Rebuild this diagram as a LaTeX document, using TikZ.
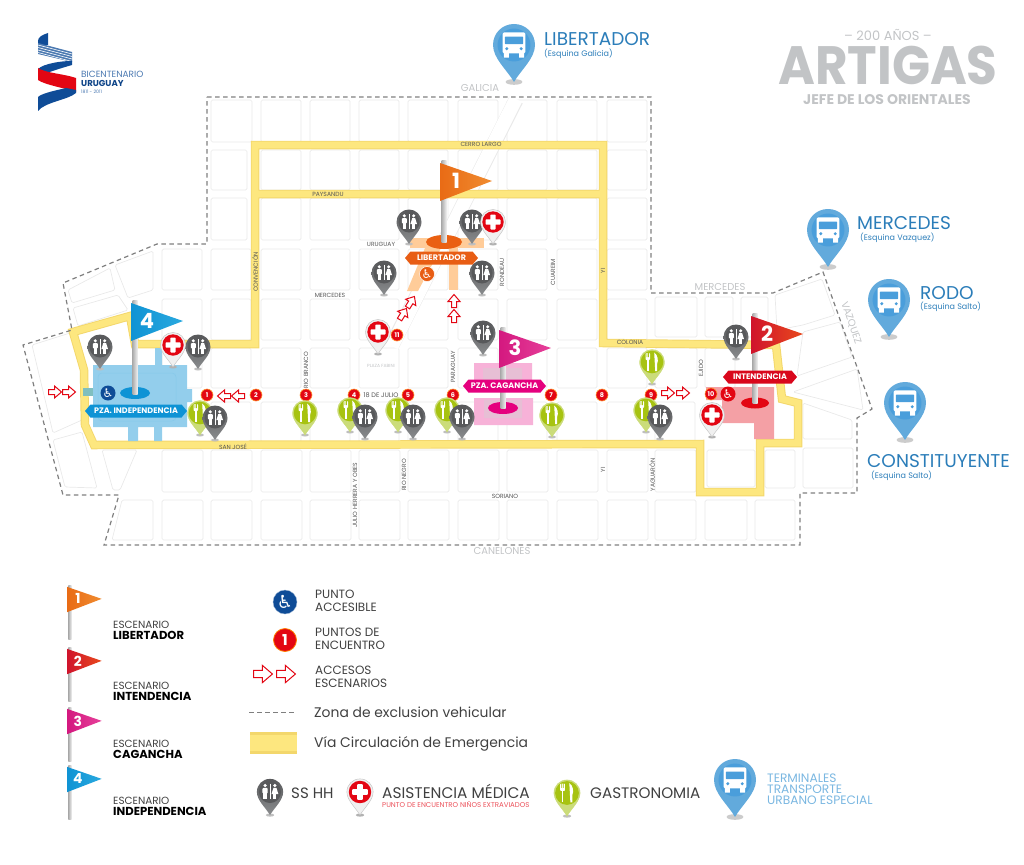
\documentclass[tikz,border=0pt]{standalone}
\usepackage{fontspec}
\setmainfont{Poppins}
\newfontfamily\symfont{DejaVu Sans}
\usetikzlibrary{calc, positioning, shapes.symbols}

\definecolor{blockgray}{HTML}{E9E9E9}
\definecolor{routefill}{HTML}{FDE77F}
\definecolor{routeedge}{HTML}{F3D76C}
\definecolor{zonegray}{HTML}{7F7F7F}
\definecolor{streetgray}{HTML}{555555}
\definecolor{palegray}{HTML}{C2C4C6}
\definecolor{logoblue}{HTML}{0F4C97}
\definecolor{busblue}{HTML}{2B7DB9}
\definecolor{buspin}{HTML}{62AADC}
\definecolor{busdark}{HTML}{4A9EDB}
\definecolor{wcdark}{HTML}{58595B}
\definecolor{wclight}{HTML}{8A8C8E}
\definecolor{gasdark}{HTML}{A7C311}
\definecolor{gaslight}{HTML}{CBDC7A}
\definecolor{medred}{HTML}{E30613}
\definecolor{indigblue}{HTML}{0E93D5}
\definecolor{libertorange}{HTML}{E85D14}
\definecolor{cagpink}{HTML}{E5007E}
\definecolor{intred}{HTML}{D9071C}
\definecolor{flagonea}{HTML}{E96B15}
\definecolor{flagoneb}{HTML}{F08C30}
\definecolor{flagtwoa}{HTML}{D0142C}
\definecolor{flagtwob}{HTML}{E8491D}
\definecolor{flagthreea}{HTML}{D4187F}
\definecolor{flagthreeb}{HTML}{E6409A}
\definecolor{flagfoura}{HTML}{0F93D4}
\definecolor{flagfourb}{HTML}{2AA9DF}

\newcommand{\fs}[1]{\fontsize{#1}{#1}\selectfont}
\newcommand{\pinpath}{(0,22) .. controls (-4,15) and (-12.5,8) .. (-12.5,0)
  .. controls (-12.5,-7) and (-7,-12.5) .. (0,-12.5)
  .. controls (7,-12.5) and (12.5,-7) .. (12.5,0)
  .. controls (12.5,8) and (4,15) .. (0,22) -- cycle}

\tikzset{
  blockcell/.style={draw=blockgray, line width=.7pt, rounded corners=1.5pt},
  zoneline/.style={draw=zonegray, line width=1.2pt, dash pattern=on 4.5pt off 3.5pt},
  streettag/.style={text=streetgray, font=\fs{6}, inner sep=0pt},
  paletag/.style={text=palegray, font=\fs{10}, inner sep=0pt},
  lefttag/.style={anchor=west, inner sep=0pt, text=black!75},
  bustitle/.style={anchor=west, inner sep=0pt, text=busblue, font=\fs{18.5}},
  bussub/.style={anchor=west, inner sep=0pt, text=busblue, font=\fs{8}},
  meetpoint/.style={circle, fill=medred, draw=orange!80, line width=.6pt, text=white, font=\bfseries\fs{6.5}, inner sep=0pt, minimum size=12pt},
  banner/.style={signal, signal to=east and west, signal pointer angle=100, text=white, font=\bfseries\fs{8}, inner sep=0pt, minimum height=13pt},
  access/.style={circle, text=white, inner sep=0pt, font=\symfont\fs{12}, minimum size=15pt},
  gatearrow/.pic={
    \draw[draw=medred, fill=white, line width=1pt, line join=miter]
      (-6.5,-2.5) -- (-.5,-2.5) -- (-.5,-6) -- (6.5,0) -- (-.5,6) -- (-.5,2.5) -- (-6.5,2.5) -- cycle;
  },
  wcpin/.pic={
    \fill[black!25] (0,22) ellipse (4 and 1.5);
    \shade[top color=wcdark, bottom color=wclight] \pinpath;
    \fill[wcdark] (0,0) circle (10.5);
    \fill[white] (-4.7,-6.2) circle (1.7) (4.7,-6.2) circle (1.7);
    \fill[white, rounded corners=1pt] (-7.2,-4) rectangle (-2.2,1.5);
    \fill[white] (-6.2,0) rectangle (-3.2,6.5);
    \fill[white] (3.3,-4) -- (6.1,-4) -- (8,2) -- (1.4,2) -- cycle;
    \fill[white] (3.3,2) rectangle (6.1,6.5);
    \draw[white, line width=.7pt] (0,-8) -- (0,7);
  },
  gaspin/.pic={
    \fill[black!25] (0,22) ellipse (4 and 1.5);
    \draw[fill=gaslight, draw=gasdark!60, line width=.3pt] \pinpath;
    \fill[gasdark] (0,0) circle (11.3);
    \fill[white, rounded corners=.8pt] (-6.5,-9) rectangle (-2,-2);
    \fill[gasdark] (-5.3,-10) rectangle (-4.7,-5) (-3.8,-10) rectangle (-3.2,-5);
    \fill[white] (-5,-3) rectangle (-3.4,9);
    \fill[white] (2.2,-9.5) .. controls (6,-7) and (6.5,-1) .. (5.2,1.5) -- (5.2,9) -- (3.2,9) -- cycle;
  },
  medpin/.pic={
    \fill[black!30] (0,22) ellipse (4 and 1.5);
    \draw[fill=black!6, draw=black!25, line width=.4pt] \pinpath;
    \fill[medred] (0,0) circle (10.7);
    \fill[white, rounded corners=.8pt] (-7.5,-2.7) rectangle (7.5,2.7) (-2.7,-7.5) rectangle (2.7,7.5);
  },
  buspinmark/.pic={
    \fill[black!20] (0,22) ellipse (5 and 1.7);
    \fill[buspin] \pinpath;
    \fill[busdark] (0,0) circle (9.8);
    \fill[white, rounded corners=1.5pt] (-6.8,-7.5) rectangle (6.8,5);
    \fill[white] (-6,4) rectangle (-3,7.5) (3,4) rectangle (6,7.5);
    \fill[busdark, rounded corners=.6pt] (-5.4,-5) rectangle (5.4,-.5);
    \fill[busdark] (-4.3,2.2) circle (1) (4.3,2.2) circle (1);
  },
}

% flag: #1 pale side, #2 strong side, #3 number
\newcommand{\flagcloth}[3]{
  \shade[left color=#2, right color=#1] (-4,3) -- (48,21) -- (-4,41) -- cycle;
  \node[text=white, font=\bfseries\fs{21}, transform shape, inner sep=0pt] (flagnum#3) at (12,21) {#3};
}

\begin{document}
\begin{tikzpicture}[x=1pt, y=-1pt]
  \useasboundingbox (0,0) rectangle (1024,864);

  %Blocks
  \foreach \bx in {261,310,359,408,458,507,557,607}{
    \foreach \by/\bh in {100/42,150/40,198/42}{
      \draw[blockcell] (\bx,\by) rectangle ++(40,\bh);
    }
  }
  \draw[blockcell] (211,100) rectangle ++(41,42);
  \draw[blockcell] (211,150) rectangle ++(36,40);
  \draw[blockcell] (211,198) rectangle ++(36,42);
  \foreach \bx in {162,211,261,310,359,408,458,507,557,607}{
    \foreach \by/\bh in {249/41,299/41,348/40}{
      \draw[blockcell] (\bx,\by) rectangle ++(40,\bh);
    }
  }
  \foreach \bx in {211,261,310,359,408,458,507,557,607,655}{
    \draw[blockcell] (\bx,402) rectangle ++(40,40);
  }
  \foreach \bx in {162,211,261,310,359,408,458,507,557,607,655}{
    \foreach \by/\bh in {450/42,500/40}{
      \draw[blockcell] (\bx,\by) rectangle ++(41,\bh);
    }
  }
  \draw[blockcell] (705,500) rectangle ++(42,40);
  \draw[blockcell] (755,500) rectangle ++(40,40);
  \draw[blockcell] (707,450) rectangle (755,487);
  \draw[blockcell] (765,450) rectangle (795,488);
  \draw[blockcell] (803,448) rectangle (853,488);
  \draw[blockcell] (655,297) rectangle ++(42,40);
  \draw[blockcell] (705,297) rectangle ++(28,40);
  \draw[blockcell] (741,297) rectangle ++(27,40);
  \draw[blockcell] (655,348) rectangle ++(42,40);
  \draw[blockcell] (705,348) rectangle ++(30,40);
  %Diagonal street
  \draw[blockgray, line width=15pt] (516,100) -- (392,345);
  \draw[white, line width=13.6pt] (516,99) -- (392,346);
  %West and east irregular blocks
  \draw[blockcell] (68,290) -- (110,268) -- (115,290) -- (72,303) -- cycle;
  \draw[blockcell] (115,265) -- (153,251) -- (153,290) -- (128,298) -- cycle;
  \draw[blockcell] (73,308) -- (118,295) -- (128,310) -- (78,326) -- cycle;
  \draw[blockcell] (32,345) -- (70,333) -- (82,373) -- (82,420) -- (53,433) -- cycle;
  \draw[blockcell] (53,440) -- (82,432) -- (97,488) -- (65,487) -- cycle;
  \draw[blockcell] (102,450) -- (113,490) -- (120,490) -- (137,450) -- cycle;
  \draw[blockcell] (122,500) -- (153,500) -- (153,540) -- (112,540) -- cycle;
  \draw[blockcell] (775,295) -- (822,279) -- (835,315) -- (803,325) -- (777,330) -- cycle;
  \draw[blockcell] (803,332) -- (840,322) -- (852,357) -- (797,376) -- cycle;
  \draw[blockcell] (793,392) -- (857,369) -- (863,410) -- cycle;
  \draw[blockcell] (803,403) -- (852,420) -- (852,439) -- (803,439) -- cycle;

  %Emergency route
  \foreach \routecol/\routew in {routeedge/8.5pt, routefill/6.6pt}{
    \draw[\routecol, line width=\routew, line join=miter]
      (603,194) -- (603,145) -- (255,145) -- (255,344) -- (135,344) -- (130,316) -- (73,332)
      -- (84,370) -- (85,425) -- (94,445) -- (700,444) -- (700,492) -- (760,492) -- (760,443)
      -- (798,443) -- (798,403) -- (782,399) -- (776,345) -- (603,343) -- (603,194) -- (255,194);
  }

  %Exclusion zone
  \draw[zoneline] (207,97) -- (651,97) -- (651,293) -- (773,293) -- (823,272) -- (872,409)
    -- (857,418) -- (857,493) -- (800,493) -- (800,545) -- (104,545) -- (119,495)
    -- (63,495) -- (23,345) -- (72,330) -- (63,283) -- (157,244) -- (207,244) -- cycle;

  %Plazas
  \fill[indigblue!45!white] (93,365) rectangle (187,427)
    (155,348) rectangle (162,365) (128,427) rectangle (138,441) (154,427) rectangle (162,441)
    (187,389) rectangle (192,402);
  \draw[indigblue!50!white, line width=.5pt, rounded corners=4pt] (98,373) rectangle (176,421);
  \fill[teal!50!white] (83,388) rectangle (93,396);
  \fill[orange!40!white] (410,238) rectangle (484,248);
  \fill[orange!40!white] (425,248) -- (441,248) -- (418,291) -- (407,291) -- cycle;
  \fill[orange!40!white] (449,248) rectangle (458,290);
  \fill[cagpink!30!white] (474,363) rectangle (532,382) (474,398) rectangle (533,425);
  \fill[black!30!cagpink!25!white] (483,368) rectangle (522,382) (484,400) rectangle (522,418);
  \fill[medred!38!white] (706,387) -- (774,387) -- (774,439) -- (754,439) -- (754,423)
    -- (722,423) -- (722,400) -- (706,400) -- cycle;

  \fill[indigblue] (135,393) ellipse (15 and 6);
  \fill[libertorange!90!orange] (444,242) ellipse (18 and 7);
  \fill[cagpink] (503,408) ellipse (15 and 6);
  \fill[medred] (755,403) ellipse (14 and 5.5);

  %Street names
  \node[streettag] (cerro) at (481,144) {CERRO LARGO};
  \node[streettag] (paysandu) at (328,194) {PAYSANDU};
  \node[streettag] (uruguay) at (381,244) {URUGUAY};
  \node[streettag] (mercedesw) at (330,295) {MERCEDES};
  \node[streettag, rotate=90] (convencion) at (255,272) {CONVENCIÓN};
  \node[streettag, rotate=90] (riobranco) at (306,370) {RIO BRANCO};
  \node[streettag, font=\fs{6.5}] (julio) at (381,395) {18 DE JULIO};
  \node[streettag, text=palegray, font=\fs{4.5}] (fabini) at (381,366) {PLAZA FABINI};
  \node[streettag, rotate=90] (paraguay) at (453,367) {PARAGUAY};
  \node[streettag, rotate=90] (rondeau) at (502,272) {RONDEAU};
  \node[streettag, rotate=90] (cuareim) at (553,272) {CUAREIM};
  \node[streettag, rotate=90] (yinorth) at (603,271) {YI};
  \node[streettag] (colonia) at (630,342) {COLONIA};
  \node[streettag, rotate=90] (ejido) at (701,368) {EJIDO};
  \node[streettag] (sanjose) at (233,447) {SAN JOSÉ};
  \node[streettag, rotate=90] (herrera) at (355,495) {JULIO HERRERA Y OBES};
  \node[streettag, rotate=90] (rionegro) at (404,475) {RIO NEGRO};
  \node[streettag, rotate=90] (yisouth) at (603,470) {YI};
  \node[streettag, rotate=90] (yaguaron) at (652,475) {YAGUARÓN};
  \node[streettag] (soriano) at (505,496) {SORIANO};
  \node[paletag] (canelones) at (502,551) {CANELONES};
  \node[paletag] (galicia) at (480,88) {GALICIA};
  \node[paletag] (mercedese) at (720,287) {MERCEDES};
  \node[paletag, rotate=-71] (vazquez) at (851,323) {VAZQUEZ};

  %Access arrows
  \foreach \ax/\ay/\aang in {55/392/0, 69/392/0, 224/396/180, 238/396/180, 668/393/0, 683/393/0,
      454/301/90, 454/316/90, 411/302/58, 403/314/58}{
    \pic[rotate=\aang] at (\ax,\ay) {gatearrow};
  }

  %Meeting points
  \foreach \mx/\my/\mnum in {207/395/1, 256/395/2, 306/395/3, 354/395/4, 408/395/5, 453/395/6,
      551/395/7, 602/395/8, 651/395/9, 711/394/10, 397/335/11}{
    \node[meetpoint] (meet\mnum) at (\mx,\my) {\mnum};
  }

  %Food and toilet pins
  \foreach \gx/\gy in {200/413, 305/413, 350/410, 398/410, 447/410, 552/415, 652/362, 646/410}{
    \pic at (\gx,\gy) {gaspin};
  }
  \foreach \wx/\wy in {100/347, 198/347, 215/418, 409/222, 472/222, 384/273, 482/273, 483/333,
      365/417, 413/417, 462/417, 660/417, 736/337}{
    \pic at (\wx,\wy) {wcpin};
  }
  \foreach \hx/\hy in {173/345, 493/222, 378/332, 712/415}{
    \pic at (\hx,\hy) {medpin};
  }

  %Stage flags
  \foreach \fx/\fy/\flen/\fpale/\fstrong/\fnum in {
      444/160/82/flagoneb/flagonea/1,
      755/313/90/flagtwob/flagtwoa/2,
      503/327/81/flagthreeb/flagthreea/3,
      135/300/94/flagfourb/flagfoura/4}{
    \begin{scope}[shift={(\fx,\fy)}]
      \shade[left color=black!32, right color=black!6] (-2.5,0) rectangle (2.5,\flen);
      \flagcloth{\fpale}{\fstrong}{\fnum}
    \end{scope}
  }

  %Plaza banners and access badges
  \node[banner, fill=indigblue, minimum width=102pt] (indep) at (136,411) {PZA. INDEPENDENCIA};
  \node[banner, fill=libertorange, minimum width=73pt] (libert) at (441.5,258) {LIBERTADOR};
  \node[banner, fill=cagpink, minimum width=83pt] (cagan) at (504.5,386) {PZA. CAGANCHA};
  \node[banner, fill=intred, minimum width=74pt] (inten) at (760,377) {INTENDENCIA};
  \node[access, fill=logoblue] (accindep) at (108,393) {♿};
  \node[access, fill=libertorange, draw=white, line width=.5pt] (acclibert) at (427,274) {♿};
  \node[access, fill=medred] (accinten) at (728,394) {♿};

  %Bus terminals
  \foreach \bux/\buy in {514/45, 828/230, 889/300, 905/403, 735/780}{
    \pic[scale=1.68] at (\bux,\buy) {buspinmark};
  }
  \node[bustitle] (busa) at (544,39) {LIBERTADOR};
  \node[bussub] (busasub) at (544,54) {(Esquina Galicia)};
  \node[bustitle] (busb) at (857,223) {MERCEDES};
  \node[bussub] (busbsub) at (860,238) {(Esquina Vazquez)};
  \node[bustitle] (busc) at (920,293) {RODO};
  \node[bussub] (buscsub) at (920,307) {(Esquina Salto)};
  \node[bustitle] (busd) at (867,461) {CONSTITUYENTE};
  \node[bussub] (busdsub) at (871,476) {(Esquina Salto)};

  %Logo
  \fill[logoblue] (48,33) .. controls (42,35) and (38,37) .. (38,41) -- (38,45) -- (48,45) -- cycle;
  \fill[logoblue!75!white] (38,43) -- (72,52) -- (72,62) -- (38,54) -- cycle;
  \foreach \st in {45,47.5,50,52.5}{
    \draw[white, line width=.6pt] (38,\st) -- (72,\st+9);
  }
  \fill[logoblue] (72,61) .. controls (55,61) and (38,66) .. (38,70) -- (47,73) .. controls (55,70) and (65,67) .. (72,65) -- cycle;
  \fill[medred] (38,68) .. controls (45,73) and (65,74) .. (76,78) -- (76,92) .. controls (65,88) and (45,85) .. (38,80) -- cycle;
  \fill[logoblue] (38,111) -- (38,97) .. controls (42,93) and (58,90) .. (66,88) -- (76,90) -- (76,93) .. controls (68,100) and (45,102) .. (38,111) -- cycle;
  \node[lefttag, text=logoblue!75!white, font=\fs{9}] (logoa) at (81,74.5) {BICENTENARIO};
  \node[lefttag, text=logoblue!90!black, font=\bfseries\fs{8.6}] (logob) at (81,83.5) {URUGUAY};
  \node[lefttag, text=logoblue!75!white, font=\fs{4.6}] (logoc) at (81,92) {1811 - 2011};

  %Title
  \node[text=palegray, font=\fs{13}, inner sep=0pt] (years) at (888,35) {-- 200 AÑOS --};
  \node[text=palegray, font=\bfseries\fs{50}, inner sep=0pt, anchor=base] (artigas) at (888,85) {\scalebox{1}[1.08]{ARTIGAS}};
  \node[text=palegray, font=\bfseries\fs{14}, inner sep=0pt] (jefe) at (887,99.5) {JEFE DE LOS ORIENTALES};

  %Legend
  \foreach \lx/\ly/\llen/\lpale/\lstrong/\lnum in {
      70/585/83/flagoneb/flagonea/1,
      70/647/83/flagtwob/flagtwoa/2,
      70/707/83/flagthreeb/flagthreea/3,
      70/765/83/flagfourb/flagfoura/4}{
    \begin{scope}[shift={(\lx,\ly)}, scale=.66]
      \shade[left color=black!32, right color=black!6] (-2.5,0) rectangle (2.5,\llen);
      \flagcloth{\lpale}{\lstrong}{\lnum}
    \end{scope}
  }
  \foreach \ty/\tname/\tid in {625/LIBERTADOR/a, 686/INTENDENCIA/b, 744/CAGANCHA/c, 801/INDEPENDENCIA/d}{
    \node[lefttag, font=\fs{10.4}] (esc\tid) at (113,\ty) {ESCENARIO};
    \node[lefttag, text=black, font=\bfseries\fs{11.6}, below=2.2pt of esc\tid.south west, anchor=north west] (stage\tid) {\tname};
  }
  \node[access, fill=logoblue, draw=logoblue!40!white, minimum size=24pt, font=\symfont\fs{18}] (legacc) at (285,602) {♿};
  \node[meetpoint, draw=orange, line width=.8pt, minimum size=23pt, font=\bfseries\fs{15}] (legmeet) at (285,640) {1};
  \pic[scale=1.45] at (263,674) {gatearrow};
  \pic[scale=1.45] at (286,674) {gatearrow};
  \node[lefttag, font=\fs{12}, align=left] (txtacc) at (315,601) {PUNTO\\[1pt]ACCESIBLE};
  \node[lefttag, font=\fs{12}, align=left] (txtmeet) at (315,639) {PUNTOS DE\\[1pt]ENCUENTRO};
  \node[lefttag, font=\fs{12}, align=left] (txtgate) at (315,677) {ACCESOS\\[1pt]ESCENARIOS};
  \coordinate (zonestart) at (249,712);
  \coordinate (zoneend) at (296,712);
  \draw[zonegray, line width=.8pt, dash pattern=on 4.5pt off 3.5pt] (zonestart) -- (zoneend);
  \node[lefttag, font=\fs{13.9}] (txtzone) at (314,712) {Zona de exclusion vehicular};
  \fill[routeedge] (250,732) rectangle (297,754);
  \fill[routefill] (250,735) rectangle (297,751);
  \node[lefttag, font=\fs{13.9}] (txtroute) at (314,744) {Vía Circulación de Emergencia};
  \pic[scale=1.05] at (270,792) {wcpin};
  \node[lefttag, font=\fs{15}] (txtwc) at (291,793) {SS HH};
  \pic[scale=1.05] at (360,792) {medpin};
  \node[lefttag, font=\fs{15.4}] (txtmed) at (382,791) {ASISTENCIA MÉDICA};
  \node[lefttag, text=medred!70!white, font=\fs{7}] (txtmedsub) at (382,805) {PUNTO DE ENCUENTRO NIÑOS EXTRAVIADOS};
  \pic[scale=1.05] at (567,793) {gaspin};
  \node[lefttag, font=\fs{15.2}] (txtgas) at (590,793) {GASTRONOMIA};
  \node[lefttag, text=buspin!85!white, font=\fs{12.2}, align=left] (txtbus) at (767,789) {TERMINALES\\[-1pt]TRANSPORTE\\[-1pt]URBANO ESPECIAL};
\end{tikzpicture}
\end{document}
